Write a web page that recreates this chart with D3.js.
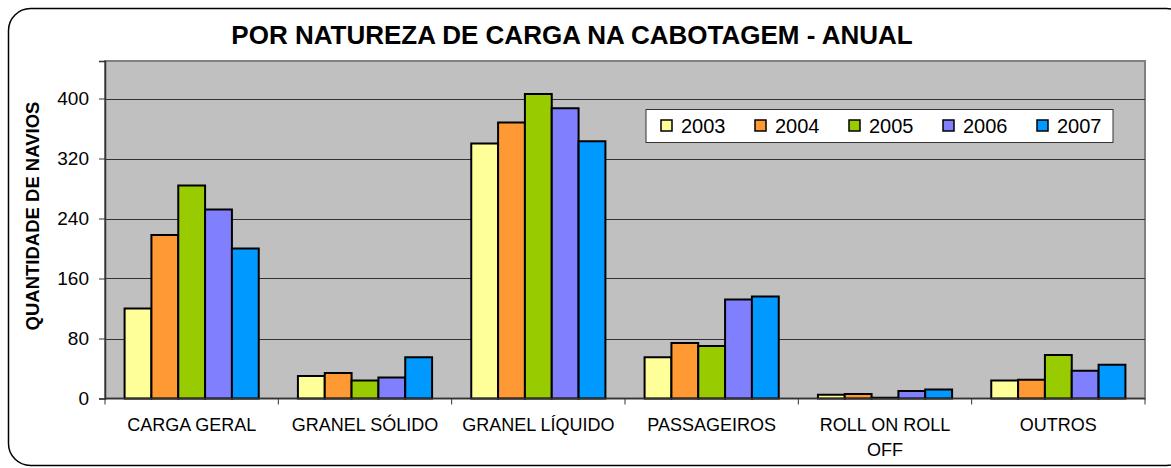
<!DOCTYPE html>
<html lang="en">
<head>
<meta charset="UTF-8">
<title>Por natureza de carga na cabotagem</title>
<style>
  body { margin: 0; background: #fff; }
  svg text { font-family: "Liberation Sans", Arial, sans-serif; fill: #000; }
</style>
</head>
<body>
<div id="chart"></div>
<script src="https://d3js.org/d3.v7.min.js"></script>
<script>
// data
var categories = ["CARGA GERAL", "GRANEL SÓLIDO", "GRANEL LÍQUIDO", "PASSAGEIROS", "ROLL ON ROLL OFF", "OUTROS"];
var years = ["2003", "2004", "2005", "2006", "2007"];
var v2003 = [120, 30, 340, 55, 5, 24];
var v2004 = [218, 34, 368, 74, 6, 25];
var v2005 = [284, 24, 406, 70, 1, 58];
var v2006 = [252, 28, 387, 132, 10, 37];
var v2007 = [200, 55, 343, 136, 12, 45];
var yTicks = [0, 80, 160, 240, 320, 400];
var colors = ["#FFFF99", "#FF9933", "#99CC00", "#8080FF", "#0099FF"];

var series = [v2003, v2004, v2005, v2006, v2007];
var W = 1171, H = 468;
var m = { left: 105, right: 1145, top: 61, bottom: 398.5 };

var svg = d3.select("#chart").append("svg")
  .attr("width", W).attr("height", H);

// outer frame with rounded corners
svg.append("rect")
  .attr("x", 8.5).attr("y", 8.5)
  .attr("width", 1180).attr("height", 457)
  .attr("rx", 22).attr("ry", 22)
  .attr("fill", "#fff").attr("stroke", "#000").attr("stroke-width", 1.5);

svg.append("text")
  .attr("x", 572).attr("y", 43.5)
  .attr("text-anchor", "middle")
  .style("font-size", "26px").style("font-weight", "bold")
  .text("POR NATUREZA DE CARGA NA CABOTAGEM - ANUAL");

var x0 = d3.scaleBand().domain(categories).range([m.left, m.right]);
var gap = x0.bandwidth() * 0.113;
var x1 = d3.scaleBand().domain(years).range([gap, x0.bandwidth() - gap]);
var y = d3.scaleLinear().domain([0, 450]).range([m.bottom, m.top]);

// plot area
svg.append("rect")
  .attr("x", m.left).attr("y", m.top)
  .attr("width", m.right - m.left).attr("height", m.bottom - m.top)
  .attr("fill", "#C0C0C0").attr("stroke", "#808080").attr("stroke-width", 2);

svg.append("g").selectAll("line")
  .data(yTicks.slice(1))
  .join("line")
  .attr("x1", m.left).attr("x2", m.right)
  .attr("y1", d => Math.round(y(d)) + 0.5).attr("y2", d => Math.round(y(d)) + 0.5)
  .attr("stroke", "#333").attr("stroke-width", 1);

// y axis
var yAxis = svg.append("g")
  .attr("transform", "translate(" + m.left + ",0)")
  .call(d3.axisLeft(y).tickValues(yTicks).tickSize(6).tickPadding(10));
yAxis.select(".domain").attr("stroke", "#333").attr("stroke-width", 1.5);
yAxis.selectAll(".tick line").attr("stroke", "#333");
yAxis.selectAll(".tick text")
  .style("font-size", "19px").style("font-family", "Liberation Sans, Arial, sans-serif");

svg.append("text")
  .attr("transform", "translate(39,216) rotate(-90)")
  .attr("text-anchor", "middle")
  .style("font-size", "18.5px").style("font-weight", "bold")
  .text("QUANTIDADE DE NAVIOS");

// bars
var groups = svg.append("g").selectAll("g")
  .data(categories)
  .join("g")
  .attr("transform", d => "translate(" + x0(d) + ",0)");

groups.selectAll("rect")
  .data((d, i) => years.map((yr, j) => ({ yr: yr, v: series[j][i], c: colors[j] })))
  .join("rect")
  .attr("x", d => x1(d.yr))
  .attr("width", x1.bandwidth())
  .attr("y", d => y(d.v))
  .attr("height", d => y(0) - y(d.v))
  .attr("fill", d => d.c)
  .attr("stroke", "#000").attr("stroke-width", 2);

// x axis
svg.append("line")
  .attr("x1", m.left).attr("x2", m.right)
  .attr("y1", m.bottom).attr("y2", m.bottom)
  .attr("stroke", "#333").attr("stroke-width", 1.5);
svg.append("g").selectAll("line")
  .data(d3.range(categories.length + 1))
  .join("line")
  .attr("x1", i => m.left + i * x0.step()).attr("x2", i => m.left + i * x0.step())
  .attr("y1", m.bottom).attr("y2", m.bottom + 6)
  .attr("stroke", "#333");

var xl = svg.append("g").selectAll("text")
  .data(categories)
  .join("text")
  .attr("x", d => x0(d) + x0.bandwidth() / 2)
  .attr("y", 431)
  .attr("text-anchor", "middle")
  .style("font-size", "18px");
xl.each(function(d) {
  var t = d3.select(this);
  var lines = d === "ROLL ON ROLL OFF" ? ["ROLL ON ROLL", "OFF"] : [d];
  lines.forEach((s, k) => {
    t.append("tspan").attr("x", x0(d) + x0.bandwidth() / 2).attr("dy", k ? 25 : 0).text(s);
  });
});

// legend
var lg = svg.append("g");
lg.append("rect")
  .attr("x", 646).attr("y", 109.5)
  .attr("width", 467).attr("height", 33)
  .attr("fill", "#fff").attr("stroke", "#333").attr("stroke-width", 1);
var items = lg.selectAll("g.item")
  .data(years)
  .join("g")
  .attr("class", "item")
  .attr("transform", (d, i) => "translate(" + (661 + i * 94) + ",120)");
items.append("rect")
  .attr("width", 11).attr("height", 11)
  .attr("fill", (d, i) => colors[i])
  .attr("stroke", "#000").attr("stroke-width", 1.5);
items.append("text")
  .attr("x", 20).attr("y", 12.5)
  .style("font-size", "20px")
  .text(d => d);
</script>
</body>
</html>
